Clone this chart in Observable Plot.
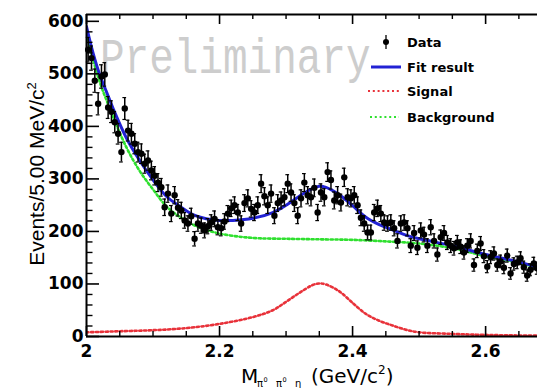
<!DOCTYPE html>
<html><head><meta charset="utf-8">
<script src="https://cdn.jsdelivr.net/npm/d3@7"></script>
<script src="https://cdn.jsdelivr.net/npm/@observablehq/plot@0.6"></script>
<style>
html,body{margin:0;padding:0;background:#fff;}
#chart{width:537px;height:388px;overflow:hidden;}
</style></head><body><div id="chart"></div>
<script>
// histogram: 5 MeV bins starting at 2.000 GeV
const binStart = 2.0025;
const binWidth = 0.005;
const counts = [
  546,530,487,443,495,499,436,428,408,386,
  351,434,392,386,367,351,348,329,335,316,
  306,293,284,246,272,234,269,245,240,221,
  215,229,186,215,211,202,210,217,224,208,
  206,219,234,244,250,236,215,254,263,243,
  236,250,291,267,250,272,230,254,259,265,
  291,274,254,230,263,293,269,265,283,236,
  274,265,313,298,259,269,255,303,265,263,
  269,250,226,215,198,198,236,244,234,217,
  215,217,206,182,215,217,206,173,197,169,
  202,194,173,208,182,156,189,197,179,173,
  168,179,171,160,173,182,136,163,177,153,
  133,151,158,136,143,131,154,120,138,141,
  149,132,116,127,139,130
];
// fit result (total)
const fitX = [2.00,2.01,2.02,2.03,2.04,2.06,2.08,2.10,2.12,2.14,2.16,2.18,2.20,2.22,2.25,2.28,2.30,2.32,2.34,2.35,2.36,2.38,2.40,2.42,2.44,2.46,2.48,2.50,2.55,2.60,2.65,2.68];
const fitY = [590,539,498,466,434,378,335,298,267,248,232,224,221,221,225,236,250,267,282,286,284,270,249,227,213,203,193,186,173,156,142,131];
// background
const bgX = [2.00,2.01,2.02,2.03,2.04,2.06,2.08,2.10,2.12,2.14,2.16,2.18,2.20,2.23,2.26,2.30,2.35,2.40,2.45,2.50,2.55,2.60,2.65,2.68];
const bgY = [578,527,484,450,418,360,315,280,248,228,213,203,196,190,187,186,185,184,181,177,168,153,140,129];
// signal
const sigX = [2.00,2.05,2.10,2.15,2.20,2.25,2.28,2.30,2.32,2.34,2.35,2.36,2.38,2.40,2.42,2.44,2.46,2.48,2.50,2.55,2.60,2.65,2.68];
const sigY = [8,10,12,16,24,37,50,66,83,98,101,99,86,64,43,30,21,13,8,5,3,2,2];
// axes
const xMajor = [2.0, 2.2, 2.4, 2.6];
const xMinor = [2.05,2.1,2.15,2.25,2.3,2.35,2.45,2.5,2.55,2.65];
const yMajor = [0,100,200,300,400,500,600];
const yMinor = d3.range(20, 613, 20).filter(v => v % 100 !== 0);
const legendLabels = ["Data", "Fit result", "Signal", "Background"];
const colors = {fit: "#2222d4", sig: "#e8323a", bg: "#2fe02f"};

const data = counts.map((c, i) => ({x: binStart + binWidth * i, y: c, e: Math.sqrt(c)}));
const fit = fitX.map((x, i) => ({x, y: fitY[i]}));
const bg = bgX.map((x, i) => ({x, y: bgY[i]}));
const sig = sigX.map((x, i) => ({x, y: sigY[i]}));

const W = 537, H = 388, mL = 86, mT = 14, mB = 52, mR = 0;
const fw = W - mL - mR, fh = H - mT - mB;

const plot = Plot.plot({
  width: W, height: H,
  marginLeft: mL, marginRight: mR, marginTop: mT, marginBottom: mB,
  x: {domain: [2.0, 2.678]},
  y: {domain: [0, 613]},
  style: {background: "white", fontFamily: "DejaVu Sans", fontWeight: "bold", fontSize: "17px", color: "black"},
  marks: [
    Plot.line(bg, {x: "x", y: "y", stroke: colors.bg, strokeWidth: 2.6, strokeDasharray: "2.2,2.6", curve: "catmull-rom", clip: true}),
    Plot.line(sig, {x: "x", y: "y", stroke: colors.sig, strokeWidth: 2.6, strokeDasharray: "2.2,2.6", curve: "catmull-rom", clip: true}),
    Plot.line(fit, {x: "x", y: "y", stroke: colors.fit, strokeWidth: 3, curve: "catmull-rom", clip: true}),
    Plot.ruleX(data, {x: "x", y1: d => d.y - d.e, y2: d => d.y + d.e, stroke: "black", strokeWidth: 1.5}),
    Plot.ruleY(data, {y: d => d.y + d.e, x1: d => d.x - 0.0028, x2: d => d.x + 0.0028, stroke: "black", strokeWidth: 1.2}),
    Plot.ruleY(data, {y: d => d.y - d.e, x1: d => d.x - 0.0028, x2: d => d.x + 0.0028, stroke: "black", strokeWidth: 1.2}),
    Plot.dot(data, {x: "x", y: "y", r: 3.2, fill: "black", stroke: "none"}),
    // frame
    Plot.ruleX([2.0], {stroke: "black", strokeWidth: 2}),
    Plot.ruleY([0], {stroke: "black", strokeWidth: 2}),
    Plot.ruleY([613], {stroke: "black", strokeWidth: 2}),
    // ticks (inside)
    Plot.ruleY(yMajor, {y: d => d, insetRight: fw - 13, stroke: "black", strokeWidth: 1.6}),
    Plot.ruleY(yMinor, {y: d => d, insetRight: fw - 6.5, stroke: "black", strokeWidth: 1.4}),
    Plot.ruleX(xMajor, {x: d => d, insetTop: fh - 10, stroke: "black", strokeWidth: 1.6}),
    Plot.ruleX(xMinor, {x: d => d, insetTop: fh - 5, stroke: "black", strokeWidth: 1.4}),
    Plot.ruleX(xMajor, {x: d => d, insetBottom: fh - 10, stroke: "black", strokeWidth: 1.6}),
    Plot.ruleX(xMinor, {x: d => d, insetBottom: fh - 5, stroke: "black", strokeWidth: 1.4}),
    Plot.axisY(yMajor, {tickSize: 0, tickPadding: 3, label: null, tickFormat: d => String(d), fontSize: 17}),
    Plot.axisX(xMajor, {tickSize: 0, tickPadding: 8, label: null, tickFormat: d => String(d), fontSize: 17})
  ]
});
document.getElementById("chart").appendChild(plot);

const svg = d3.select(plot);
// watermark
svg.insert("text", ":scope > g")
  .attr("transform", "translate(100,73) scale(1,1.22)")
  .attr("text-anchor", "start")
  .attr("font-family", "Liberation Mono").attr("font-weight", "normal")
  .attr("font-size", 41).attr("fill", "#cdcdcd")
  .text("Preliminary");

// legend
const lg = svg.append("g").attr("text-anchor", "start").attr("font-family", "DejaVu Sans").attr("font-weight", "bold").attr("font-size", 13).attr("fill", "black");
const rows = [42, 67, 91, 117];
lg.append("line").attr("x1", 386).attr("x2", 386).attr("y1", rows[0] - 7).attr("y2", rows[0] + 7).attr("stroke", "black").attr("stroke-width", 1.3);
lg.append("circle").attr("cx", 386).attr("cy", rows[0]).attr("r", 3).attr("fill", "black");
lg.append("line").attr("x1", 371).attr("x2", 401).attr("y1", rows[1]).attr("y2", rows[1]).attr("stroke", colors.fit).attr("stroke-width", 3);
lg.append("line").attr("x1", 368).attr("x2", 399).attr("y1", rows[2]).attr("y2", rows[2]).attr("stroke", colors.sig).attr("stroke-width", 2.2).attr("stroke-dasharray", "2,2.8");
lg.append("line").attr("x1", 370).attr("x2", 399).attr("y1", rows[3]).attr("y2", rows[3]).attr("stroke", colors.bg).attr("stroke-width", 2.2).attr("stroke-dasharray", "2,2.8");
legendLabels.forEach((t, i) => {
  lg.append("text").attr("x", 407).attr("y", rows[i] + 5).text(t);
});

// y title
svg.append("text")
  .attr("transform", "translate(44,174) rotate(-90)")
  .attr("text-anchor", "middle")
  .attr("font-family", "Liberation Sans").attr("font-weight", "normal").attr("font-size", 21).attr("fill", "black")
  .call(t => {
    t.append("tspan").text("Events/5.00 MeV/c");
    t.append("tspan").attr("font-size", 13).attr("dy", -8).text("2");
  });

// x title
const xt = svg.append("text")
  .attr("text-anchor", "start")
  .attr("font-family", "DejaVu Sans").attr("font-weight", "normal").attr("fill", "black");
xt.append("tspan").attr("x", 241).attr("y", 383).attr("font-size", 20).text("M");
xt.append("tspan").attr("x", 257).attr("y", 387).attr("font-size", 10).text("π");
xt.append("tspan").attr("x", 263.5).attr("y", 382).attr("font-size", 6.5).text("0");
xt.append("tspan").attr("x", 276).attr("y", 387).attr("font-size", 10).text("π");
xt.append("tspan").attr("x", 282.5).attr("y", 382).attr("font-size", 6.5).text("0");
xt.append("tspan").attr("x", 295).attr("y", 387).attr("font-size", 10).text("η");
xt.append("tspan").attr("x", 311).attr("y", 383).attr("font-size", 20).text("(GeV/c");
xt.append("tspan").attr("dy", -9).attr("font-size", 12).text("2");
xt.append("tspan").attr("dy", 9).attr("font-size", 20).text(")");
</script></body></html>
